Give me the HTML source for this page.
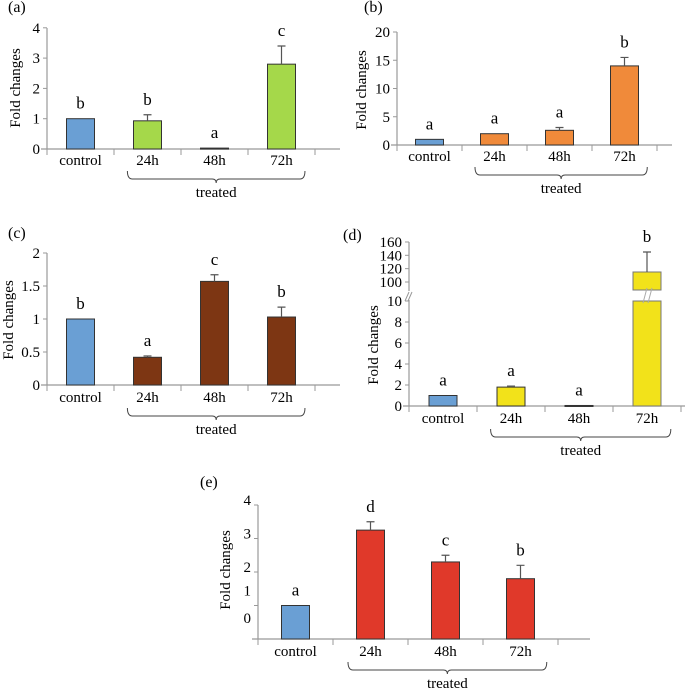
<!DOCTYPE html>
<html><head><meta charset="utf-8"><style>
html,body{margin:0;padding:0;background:#fff}
svg{display:block;font-family:"Liberation Serif",serif}
</style></head><body>
<svg id="fig" width="685" height="688" viewBox="0 0 685 688" xmlns="http://www.w3.org/2000/svg"></svg>
<script>
const categories=["control","24h","48h","72h"];
const valsA=[1,0.93,0.03,2.8], errsA=[0,0.2,0,0.6], lettersA=["b","b","a","c"];
const valsB=[1,2,2.6,14], errsB=[0,0,0.5,1.5], lettersB=["a","a","a","b"];
const valsC=[1,0.42,1.57,1.03], errsC=[0,0.02,0.1,0.15], lettersC=["b","a","c","b"];
const valsD=[1,1.8,0.05,115], errsD=[0,0.1,0,30], lettersD=["a","a","a","b"];
const valsE=[1,3.25,2.3,1.8], errsE=[0,0.25,0.2,0.4], lettersE=["a","d","c","b"];
const ticksA=[0,1,2,3,4], ticksB=[0,5,10,15,20], ticksC=[0,0.5,1,1.5,2];
const ticksDlow=[0,2,4,6,8,10], ticksDhigh=[100,120,140,160], ticksE=[0,1,2,3,4];

const NS="http://www.w3.org/2000/svg";
const svg=document.getElementById("fig");
function el(tag,attrs,parent,text){const e=document.createElementNS(NS,tag);for(const k in attrs)e.setAttribute(k,attrs[k]);if(text!==undefined)e.textContent=text;(parent||svg).appendChild(e);return e;}

function panel(p){
  const g=el("g",{},svg);
  
  
  const t=el("text",{x:p.labX,y:p.labY,"font-size":16},g,"("+p.id+")");
  
  
  const y0=p.y(0);
  const ya=el("line",{x1:p.ax,y1:p.axTop,x2:p.ax,y2:y0,stroke:"#999","stroke-width":1.2},g);
  
  
  if(p.brk){
    el("rect",{x:p.ax-3,y:p.brk.gapTop+1,width:6,height:p.brk.gapBot-p.brk.gapTop-2,fill:"#fff"},g);
    el("path",{d:`M${p.ax-4} ${p.brk.gapBot}L${p.ax} ${p.brk.gapTop+2}M${p.ax-1} ${p.brk.gapBot}L${p.ax+3} ${p.brk.gapTop+2}`,stroke:"#999",fill:"none"},g);
  }
  p.ticks.forEach((v,i)=>{
    const yy=p.y(v);
    el("line",{x1:p.ax-4,y1:yy,x2:p.ax,y2:yy,stroke:"#999"},g);
    const lab=el("text",{x:p.ax-7,y:yy+5+(p.tickOff?p.tickOff[i]:0),"font-size":15,"text-anchor":"end"},g,String(v));
    
    
  });
  const xa=el("line",{x1:p.ax-6,y1:y0,x2:p.axRight,y2:y0,stroke:"#999","stroke-width":1.2},g);
  
  
  for(let i=0;i<=categories.length;i++){const xx=p.ax+p.cw*i;if(xx<=p.axRight+1)el("line",{x1:xx,y1:y0,x2:xx,y2:y0+6,stroke:"#999"},g);}
  const yt=el("text",{transform:`translate(${p.titleX},${p.titleY}) rotate(-90)`,"font-size":15,"text-anchor":"middle"},g,"Fold changes");
  
  
  const bw=28;
  categories.forEach((c,i)=>{
    const cx=p.ax+p.cw*(i+0.5);
    const v=p.vals[i];
    const col=i===0?"#6a9fd4":p.color;
    let top=p.y(v);
    if(p.brk&&v>p.brk.lowMax){
      const b1=el("rect",{x:cx-bw/2,y:p.brk.gapBot,width:bw,height:y0-p.brk.gapBot,fill:col,stroke:"#777","stroke-width":1},g);
      
      
      const b2=el("rect",{x:cx-bw/2,y:top,width:bw,height:p.brk.gapTop-top,fill:col,stroke:"#777","stroke-width":1},g);
      
      
      el("path",{d:`M${cx-4} ${p.brk.gapBot+2}L${cx} ${p.brk.gapTop-2}M${cx+1} ${p.brk.gapBot+2}L${cx+5} ${p.brk.gapTop-2}`,stroke:"#aaa",fill:"none"},g);
    } else {
      const b=el("rect",{x:cx-bw/2,y:top,width:bw,height:Math.max(1,y0-top),fill:col,stroke:"#333","stroke-width":1},g);
      
      
    }
    let ly=top;
    if(p.errs[i]>0){
      const ey=p.y(v+p.errs[i]);
      const eb=el("path",{d:`M${cx} ${top}V${ey}M${cx-4} ${ey}H${cx+4}`,stroke:"#555","stroke-width":1.2,fill:"none"},g);
      
      
      ly=ey;
    }
    const L=el("text",{x:cx,y:ly-10,"font-size":17,"text-anchor":"middle"},g,p.letters[i]);
    
    
    const cl=el("text",{x:cx,y:y0+p.labGap,"font-size":15,"text-anchor":"middle"},g,c);
    
    
  });
  const bx1=p.ax+p.cw*1.2, bx2=p.ax+p.cw*3.85, mid=(bx1+bx2)/2, by=y0+p.labGap+6;
  const br=el("path",{d:`M${bx1} ${by}Q${bx1} ${by+8} ${bx1+5} ${by+8}H${mid-4}Q${mid} ${by+8} ${mid} ${by+12}Q${mid} ${by+8} ${mid+4} ${by+8}H${bx2-5}Q${bx2} ${by+8} ${bx2} ${by}`,stroke:"#444",fill:"none"},g);
  
  
  const tr=el("text",{x:mid,y:by+26,"font-size":15,"text-anchor":"middle"},g,"treated");
  
  
}

panel({id:"a",labX:8,labY:12,ax:47,axTop:28,axRight:340,cw:67,y:v=>149-30.3*v,ticks:ticksA,vals:valsA,errs:errsA,letters:lettersA,color:"#a5d84a",titleX:20,titleY:88,labGap:16});
panel({id:"b",labX:364,labY:12,ax:397,axTop:32,axRight:672,cw:65,y:v=>145-5.65*v,ticks:ticksB,vals:valsB,errs:errsB,letters:lettersB,color:"#f08a3a",titleX:366,titleY:90,labGap:16});
panel({id:"c",labX:8,labY:238,ax:47,axTop:253,axRight:340,cw:67,y:v=>385-66*v,ticks:ticksC,vals:valsC,errs:errsC,letters:lettersC,color:"#7d3613",titleX:13,titleY:320,labGap:17});
const dY=v=>v<=10?406-10.5*v:282-(v-100)*0.667;
panel({id:"d",labX:343,labY:240,ax:409,axTop:242,axRight:685,cw:68,y:dY,ticks:ticksDlow.concat(ticksDhigh),vals:valsD,errs:errsD,letters:lettersD,color:"#f2e21a",titleX:378,titleY:345,labGap:17,brk:{lowMax:10,gapTop:290,gapBot:301}});
panel({id:"e",labX:200,labY:487,ax:258,axTop:505,axRight:590,cw:75,y:v=>639-33.5*v,ticks:ticksE,vals:valsE,errs:errsE,letters:lettersE,color:"#e0392a",titleX:230,titleY:570,labGap:17,tickOff:[-21,-15,-5,-5,-5]});
</script>
</body></html>
